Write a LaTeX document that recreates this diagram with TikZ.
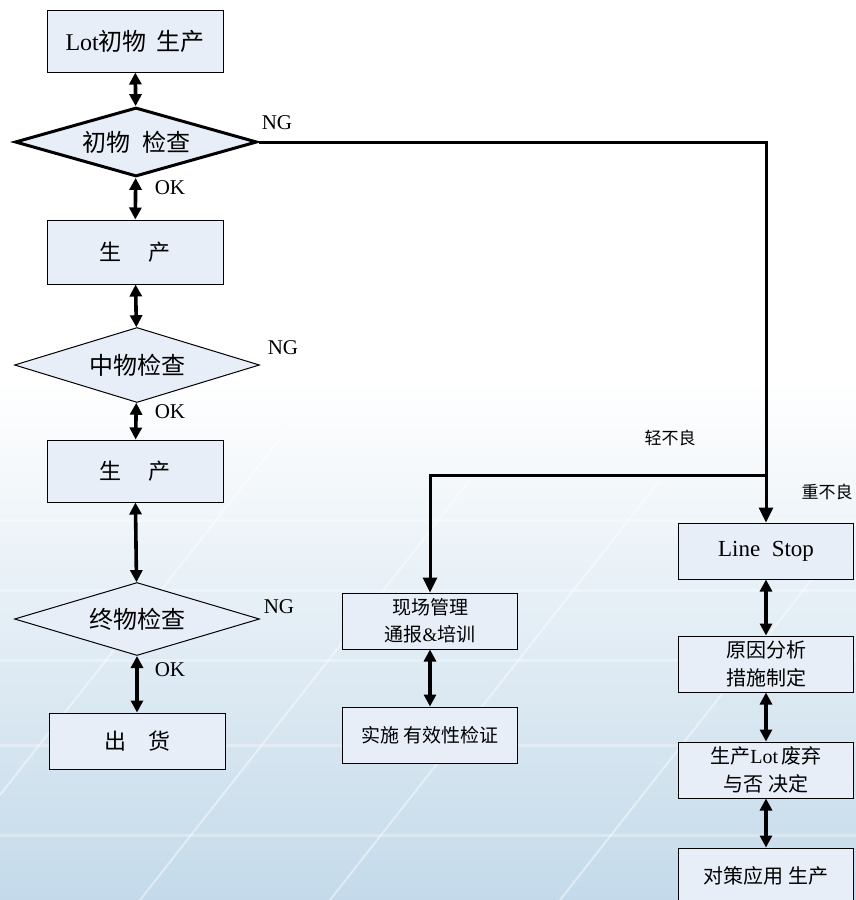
\documentclass[tikz,border=0pt]{standalone}
\usepackage{fontspec}
\setmainfont{Liberation Serif}
\newfontfamily\cjk{Noto Sans CJK SC}
\usetikzlibrary{shapes.geometric,arrows.meta,positioning}
\definecolor{boxfill}{RGB}{231,238,248}
\definecolor{bgblue}{RGB}{196,218,234}
\newcommand{\zh}[1]{{\cjk #1}}

\begin{document}
\begin{tikzpicture}[
  x=1pt, y=-1pt,
  box/.style={rectangle, draw, line width=1, fill=boxfill,
    minimum width=176, minimum height=62, inner sep=2,
    align=center, font=\fontsize{22}{26}\selectfont},
  sbox/.style={box, minimum width=175, minimum height=56,
    font=\fontsize{19}{27}\selectfont},
  chk/.style={diamond, draw, line width=1, fill=boxfill, aspect=3.3,
    minimum width=245, minimum height=75, inner sep=0,
    font=\fontsize{24}{26}\selectfont},
  lbl/.style={font=\fontsize{21}{24}\selectfont, inner sep=0},
  zlbl/.style={font=\fontsize{17}{20}\selectfont, inner sep=0},
  dbl/.style={{Triangle[length=12,width=12]}-{Triangle[length=12,width=12]}, line width=3.6},
  arr/.style={-{Triangle[length=15,width=14]}, line width=3}
]
% background
\useasboundingbox (0,0) rectangle (856,900);
\fill[white] (0,0) rectangle (856,380);
\shade[top color=white, bottom color=bgblue] (0,380) rectangle (856,900);
\foreach \a/\b in {0/795, 140/900, 330/900, 560/900}
  \draw[white, line width=2, opacity=0.45] (\a,\b) -- ++(330,-420);
\foreach \h in {520, 590, 660, 745, 835}
  \draw[white, line width=3, opacity=0.3] (0,\h) -- (856,\h);

% left column
\node[box, font=\fontsize{24}{26}\selectfont] (lot) at (135,41) {Lot\zh{初物\hspace{0.4em}生产}};
\node[chk, line width=3, aspect=3.5, minimum width=242, minimum height=69] (chk1) at (136,142) {\zh{初物\hspace{0.5em}检查}};
\node[box, minimum height=64] (prod1) at (135,252) {\zh{生\hspace{1.2em}产}};
\node[chk] (chk2) at (137,365) {\zh{中物检查}};
\node[box] (prod2) at (135,471) {\zh{生\hspace{1.2em}产}};
\node[chk, minimum height=73] (chk3) at (137,619) {\zh{终物检查}};
\node[box, minimum height=56] (ship) at (137,741) {\zh{出\hspace{1em}货}};

% middle column
\node[sbox] (site) at (430,621) {\zh{现场管理}\\\zh{通报}\&\zh{培训}};
\node[sbox] (verify) at (430,735) {\zh{实施 有效性检证}};

% right column
\node[sbox, font=\fontsize{23}{26}\selectfont] (stop) at (766,551) {Line\ \ Stop};
\node[sbox, font=\fontsize{20}{28}\selectfont] (cause) at (766,664) {\zh{原因分析}\\\zh{措施制定}};
\node[sbox, font=\fontsize{20}{28}\selectfont] (scrap) at (766,770) {\zh{生产}Lot\,\zh{废弃}\\\zh{与否 决定}};
\node[sbox, font=\fontsize{20}{24}\selectfont] (apply) at (766,876) {\zh{对策应用 生产}};

% labels
\node[lbl] (ng1) at (277,123) {NG};
\node[lbl] (ok1) at (170,188) {OK};
\node[lbl] (ng2) at (283,348) {NG};
\node[lbl] (ok2) at (170,412) {OK};
\node[lbl] (ng3) at (279,607) {NG};
\node[lbl] (ok3) at (170,670) {OK};
\node[zlbl] (light) at (670,438) {\zh{轻不良}};
\node[zlbl] (heavy) at (827,492) {\zh{重不良}};

% connectors
\draw[dbl] (lot) -- (chk1);
\draw[dbl] (chk1) -- (prod1);
\draw[dbl] (prod1) -- (chk2);
\draw[dbl] (chk2) -- (prod2);
\draw[dbl] (prod2) -- (chk3);
\draw[dbl] (chk3) -- (ship);
\draw[dbl] (site) -- (verify);
\draw[dbl] (stop) -- (cause);
\draw[dbl] (cause) -- (scrap);
\draw[dbl] (scrap) -- (apply);
\coordinate (split) at (766,475);
\draw[arr] (chk1.east) -| (stop.north);
\draw[arr] (split) -| (site.north);
\end{tikzpicture}
\end{document}
